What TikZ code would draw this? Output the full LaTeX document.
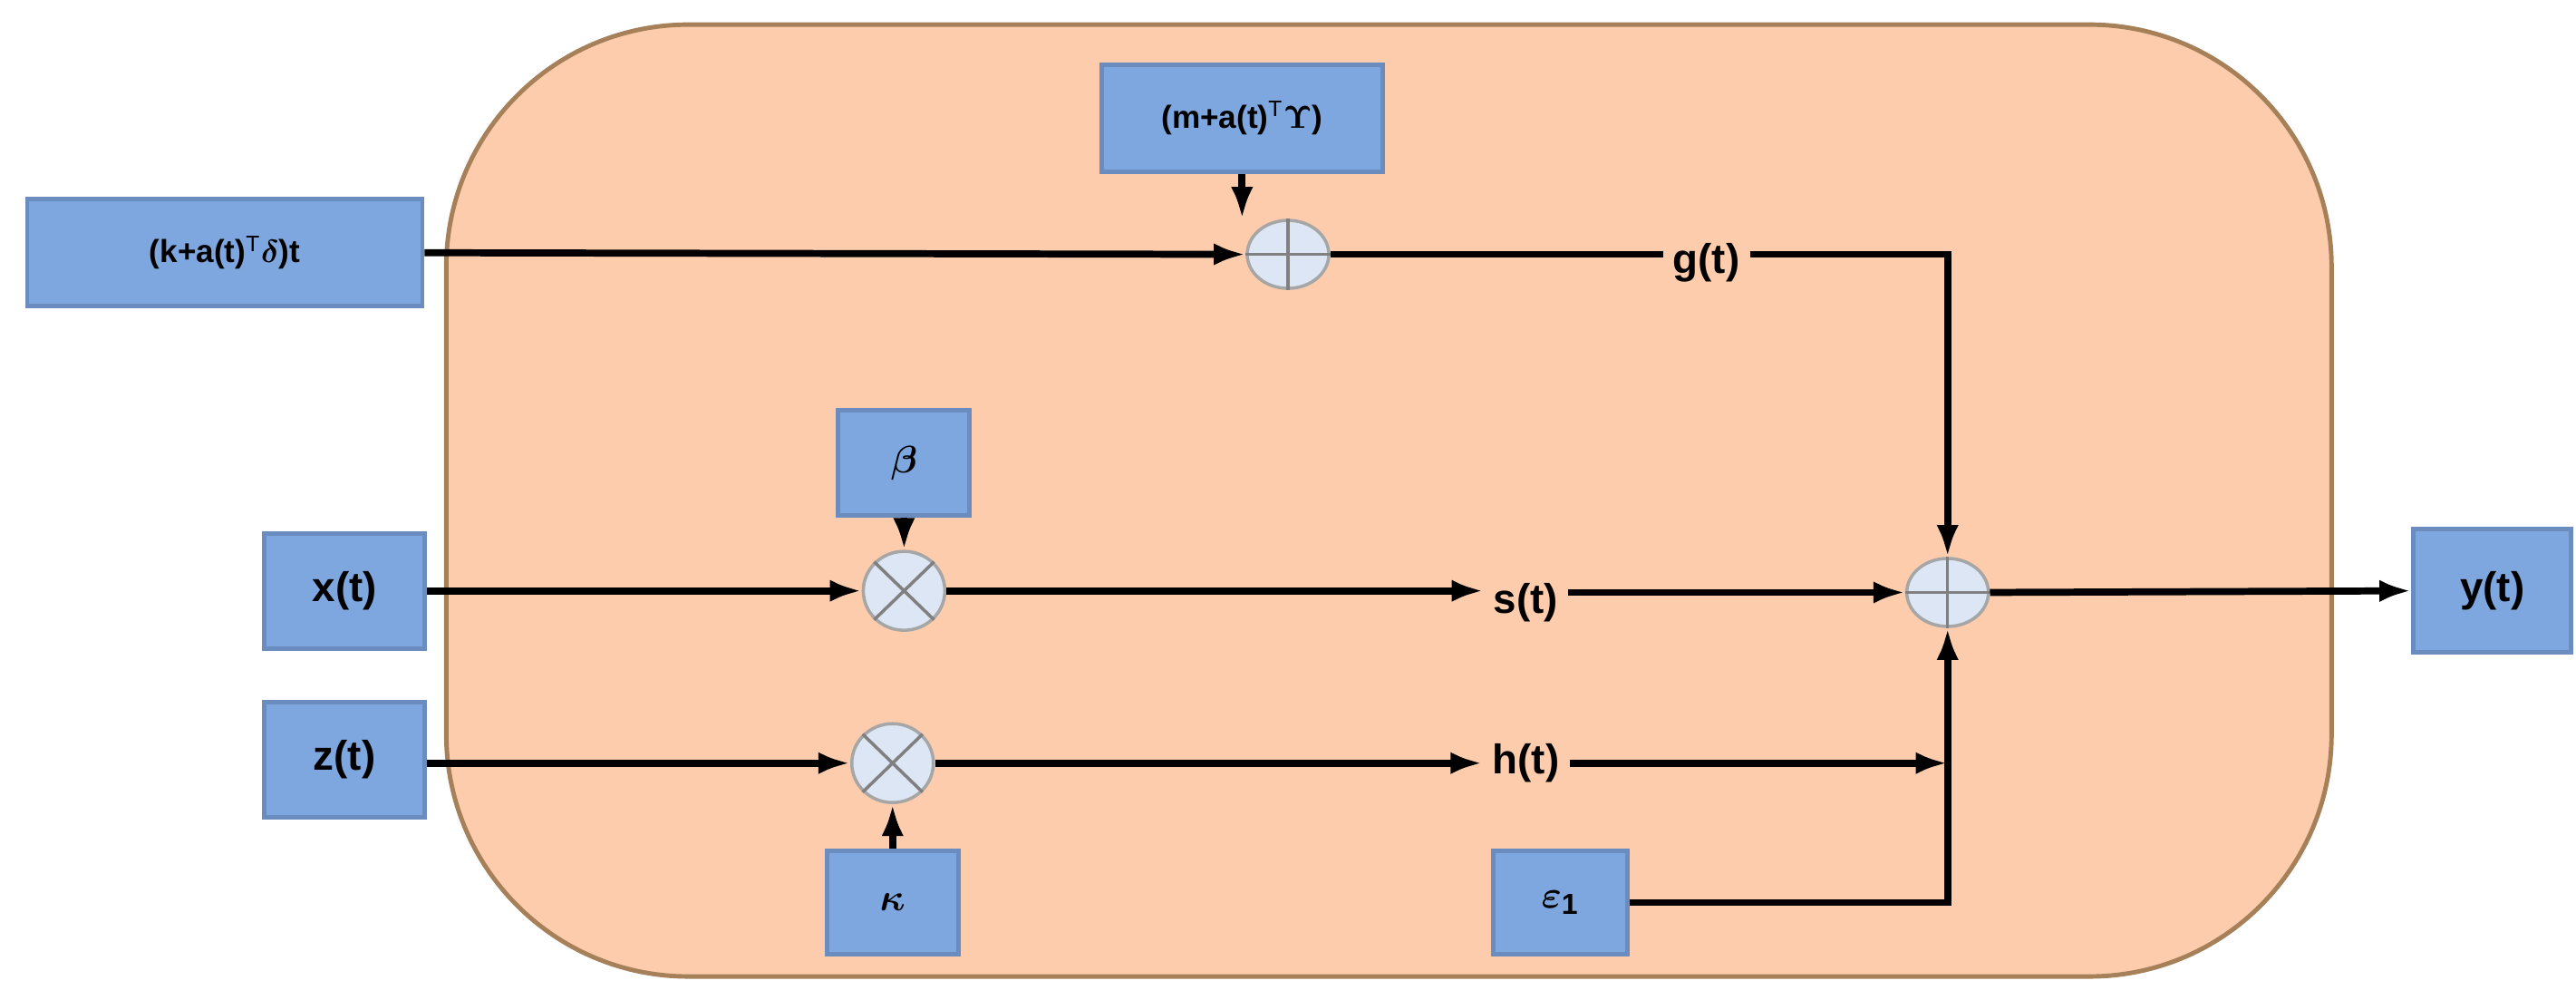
\documentclass[tikz,border=0pt]{standalone}
\usepackage{amsmath}
\usepackage{fontspec}
\setmainfont{Liberation Sans}
\usetikzlibrary{shapes.geometric,arrows.meta}
\definecolor{bg}{HTML}{FDCCAC}
\definecolor{bx}{HTML}{7DA7DE}
\definecolor{bxd}{HTML}{6A8CBF}
\definecolor{cf}{HTML}{DCE6F4}
\begin{document}
\begin{tikzpicture}[x=0.181mm,y=-0.181mm,
  box/.style={draw=bxd,line width=1.4pt,fill=bx,inner sep=0pt,font=\bfseries\fontsize{13}{15}\selectfont},
  lab/.style={inner sep=3pt,font=\bfseries\fontsize{13}{15}\selectfont},
  op/.style={ellipse,draw=gray!70,fill=cf,line width=1pt,inner sep=0pt},
  ar/.style={-{Latex[length=10pt,width=7pt]},line width=2.2pt},
  ln/.style={line width=2.2pt}]
\useasboundingbox (0,0) rectangle (1570,609);
\draw[fill=bg,draw=brown!60!gray,line width=1.4pt,rounded corners=76pt] (272,15) rectangle (1421,595);
% boxes
\node[box,minimum width=43.6mm,minimum height=11.8mm,font=\bfseries\fontsize{10}{12}\selectfont] (kb) at (137,154) {(k+a(t)$^{\mathrm{T}}\boldsymbol{\delta}$)t};
\node[box,minimum width=31mm,minimum height=11.8mm,font=\bfseries\fontsize{10}{12}\selectfont] (m) at (757,72) {(m+a(t)$^{\mathrm{T}}\boldsymbol{\Upsilon}$)};
\node[box,minimum width=14.5mm,minimum height=11.6mm] (beta) at (551,282) {$\boldsymbol{\beta}$};
\node[box,minimum width=17.7mm,minimum height=12.7mm] (x) at (210,360) {x(t)};
\node[box,minimum width=17.7mm,minimum height=12.7mm] (z) at (210,463) {z(t)};
\node[box,minimum width=17.4mm,minimum height=13.6mm] (y) at (1519,360) {y(t)};
\node[box,minimum width=14.5mm,minimum height=11.4mm] (kap) at (544,550) {$\boldsymbol{\kappa}$};
\node[box,minimum width=14.8mm,minimum height=11.4mm] (eps) at (951,550) {$\boldsymbol{\varepsilon}_{\mathbf{1}}$};
% operators
\node[op,minimum width=9mm,minimum height=7.5mm] (p1) at (785,155) {};
\draw[gray,line width=1pt] (p1.north)--(p1.south) (p1.west)--(p1.east);
\node[op,minimum width=9mm,minimum height=7.5mm] (sum) at (1187,361) {};
\draw[gray,line width=1pt] (sum.north)--(sum.south) (sum.west)--(sum.east);
\node[op,minimum width=9mm,minimum height=8.7mm] (m1) at (551,360) {};
\draw[gray,line width=1pt] (m1.north west)--(m1.south east) (m1.north east)--(m1.south west);
\node[op,minimum width=9mm,minimum height=8.7mm] (m2) at (544,465) {};
\draw[gray,line width=1pt] (m2.north west)--(m2.south east) (m2.north east)--(m2.south west);
% labels
\node[lab] (g) at (1040,160) {g(t)};
\node[lab] (s) at (930,367) {s(t)};
\node[lab] (h) at (930,465) {h(t)};
\coordinate (gc) at (1187,155);
\coordinate (hc) at (1187,465);
\coordinate (ec) at (1187,550);
% connectors
\draw[ar] (kb.east) -- (p1.west);
\draw[ar] (m.south) -- (m.south |- p1.north);
\draw[ln] (p1.east) -- (g.west |- p1.east);
\draw[ar] (g.east |- gc) -- (gc) -- (sum.north);
\draw[ar] (beta.south) -- (m1.north);
\draw[ar] (x.east) -- (m1.west);
\draw[ar] (m1.east) -- (s.west |- m1.east);
\draw[ar] (s.east |- sum.west) -- (sum.west);
\draw[ar] (sum.east) -- (y.west);
\draw[ar] (z.east |- m2.west) -- (m2.west);
\draw[ar] (kap.north) -- (m2.south);
\draw[ar] (m2.east) -- (h.west);
\draw[ar] (h.east) -- (hc);
\draw[ar] (eps.east |- ec) -- (ec) -- (sum.south);
\end{tikzpicture}
\end{document}
